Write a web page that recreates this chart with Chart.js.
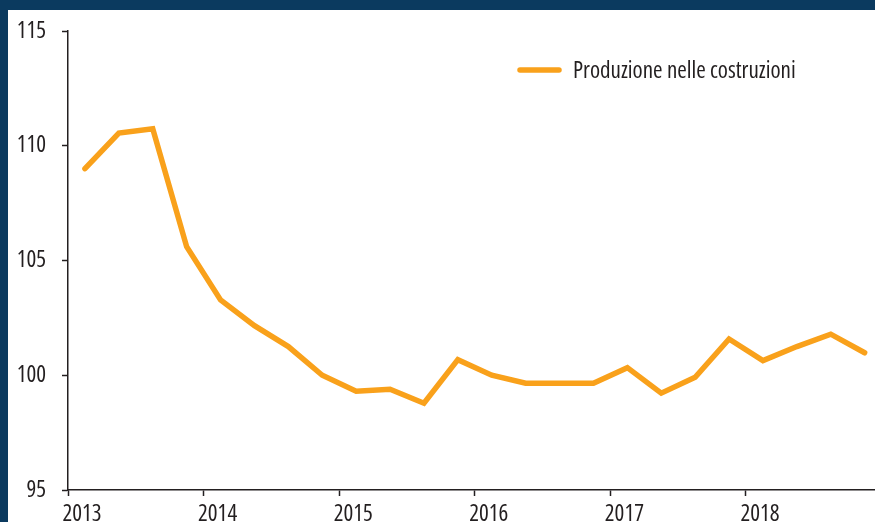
<!DOCTYPE html>
<html>
<head>
<meta charset="utf-8">
<script src="https://cdn.jsdelivr.net/npm/chart.js@4/dist/chart.umd.min.js"></script>
<style>
  html, body { margin: 0; padding: 0; overflow: hidden; background: #0b3a5f; }
  #wrap { position: absolute; left: 8px; top: 10px; width: 867px; height: 520px; background: #fff; }
</style>
</head>
<body>
<div id="wrap"><canvas id="prodChart" width="867" height="520"></canvas></div>
<script>
// quarterly data, 2013 Q1 - 2018 Q4
const quarters = [
    '2013-1', '2013-2', '2013-3', '2013-4',
    '2014-1', '2014-2', '2014-3', '2014-4',
    '2015-1', '2015-2', '2015-3', '2015-4',
    '2016-1', '2016-2', '2016-3', '2016-4',
    '2017-1', '2017-2', '2017-3', '2017-4',
    '2018-1', '2018-2', '2018-3', '2018-4'
];
const production = [
    109.0, 110.55, 110.74, 105.6,
    103.28, 102.16, 101.25, 100.0,
    99.3, 99.39, 98.78, 100.68,
    100.0, 99.65, 99.65, 99.65,
    100.33, 99.22, 99.91, 101.58,
    100.64, 101.25, 101.79, 100.98
];
const yearTicks = [2013, 2014, 2015, 2016, 2017, 2018];
const yTicks = [95, 100, 105, 110, 115];
const seriesLabel = 'Produzione nelle costruzioni';

const textColor = '#231f20';
const lineColor = '#f9a11b';
const fontFamily = "'Open Sans', 'Roboto Condensed', sans-serif";

// place each quarter at the middle of its period
const points = quarters.map((q, i) => {
    const [y, n] = q.split('-').map(Number);
    return { x: y + (n - 0.5) / 4, y: production[i] };
});

Chart.defaults.font.family = fontFamily;
Chart.defaults.font.size = 23;
Chart.defaults.font.weight = 'condensed'; // font-stretch keyword in the font shorthand
Chart.defaults.color = textColor;

// legend drawn inside the plot, top right
const insideLegend = {
    id: 'insideLegend',
    afterDraw(chart) {
        const ctx = chart.ctx;
        const ds = chart.data.datasets[0];
        ctx.save();
        ctx.strokeStyle = ds.borderColor;
        ctx.lineWidth = ds.borderWidth;
        ctx.lineCap = 'round';
        ctx.beginPath();
        ctx.moveTo(512, 60);
        ctx.lineTo(551, 60);
        ctx.stroke();
        ctx.fillStyle = textColor;
        ctx.font = 'condensed 23px ' + fontFamily;
        ctx.textBaseline = 'middle';
        ctx.fillText(ds.label, 565, 61);
        ctx.restore();
    }
};

const ctx = document.getElementById('prodChart').getContext('2d');

const prodChart = new Chart(ctx, {
    type: 'line',
    data: {
        datasets: [{
            label: seriesLabel,
            data: points,
            borderColor: lineColor,
            backgroundColor: lineColor,
            borderWidth: 5.5,
            borderCapStyle: 'round',
            pointRadius: 0,
            tension: 0
        }]
    },
    options: {
        responsive: false,
        animation: false,
        layout: { padding: { top: 21, right: 0, left: 0, bottom: 0 } },
        plugins: {
            legend: { display: false },
            tooltip: { enabled: false }
        },
        scales: {
            x: {
                type: 'linear',
                min: yearTicks[0],
                max: 2013 + 807 / 135.6,
                afterBuildTicks: (scale) => { scale.ticks = yearTicks.map(v => ({ value: v })); },
                afterFit: (scale) => {
                    scale.height = 40;
                    scale.paddingLeft = 0;
                    scale.paddingRight = 0;
                },
                grid: { drawOnChartArea: false, drawTicks: true, tickLength: 6, tickColor: textColor, tickWidth: 1.5 },
                border: { display: true, color: textColor, width: 1.5 },
                ticks: {
                    padding: 5,
                    labelOffset: 14,
                    maxRotation: 0,
                    color: textColor,
                    callback: (v) => String(v)
                }
            },
            y: {
                min: yTicks[0],
                max: yTicks[yTicks.length - 1],
                afterBuildTicks: (scale) => { scale.ticks = yTicks.map(v => ({ value: v })); },
                afterFit: (scale) => {
                    scale.width = 60;
                    scale.paddingTop = 0;
                    scale.paddingBottom = 0;
                },
                grid: { drawOnChartArea: false, drawTicks: true, tickLength: 6, tickColor: textColor, tickWidth: 1.5 },
                border: { display: true, color: textColor, width: 1.5 },
                ticks: { padding: 16, color: textColor }
            }
        }
    },
    plugins: [insideLegend]
});
</script>
</body>
</html>
